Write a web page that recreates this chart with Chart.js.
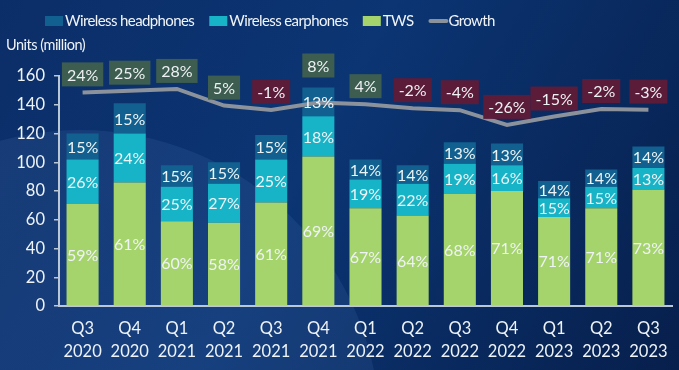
<!DOCTYPE html>
<html>
<head>
<meta charset="utf-8">
<script src="https://cdn.jsdelivr.net/npm/chart.js@4.4.0/dist/chart.umd.min.js"></script>
<style>
  html, body { margin: 0; padding: 0; background: #0a2b63; overflow: hidden; }
  #wrap { width: 679px; height: 370px; position: relative; }
</style>
</head>
<body>
<div id="wrap"><canvas id="chart" width="679" height="370"></canvas></div>
<script>
// ---- Data ----
const quarters = [
  ["Q3","2020"],["Q4","2020"],["Q1","2021"],["Q2","2021"],["Q3","2021"],["Q4","2021"],
  ["Q1","2022"],["Q2","2022"],["Q3","2022"],["Q4","2022"],["Q1","2023"],["Q2","2023"],["Q3","2023"]
];
const tws        = [71, 86, 59, 58, 72, 104, 68, 63, 78, 80, 62, 68, 81];
const earphones  = [31, 34, 24, 27, 30, 28, 20, 22, 21, 18, 13, 15, 15];
const headphones = [18, 21, 15, 15, 17, 20, 14, 13, 15, 15, 12, 12, 15];

const twsShare  = ["59%","61%","60%","58%","61%","69%","67%","64%","68%","71%","71%","71%","73%"];
const earShare  = ["26%","24%","25%","27%","25%","18%","19%","22%","19%","16%","15%","15%","13%"];
const headShare = ["15%","15%","15%","15%","15%","13%","14%","14%","13%","13%","14%","14%","14%"];

// growth line is drawn on the units axis in the original
const growthLine   = [148.6, 149.8, 151, 139.4, 136.4, 141.5, 140.4, 137.6, 136.2, 126, 131.8, 137, 136.6];
const growthLabels = ["24%","25%","28%","5%","-1%","8%","4%","-2%","-4%","-26%","-15%","-2%","-3%"];

const yTicks = [0, 20, 40, 60, 80, 100, 120, 140, 160];

const FONT = "Lato, 'Open Sans', sans-serif";
const C_HEAD = "#11608f";
const C_EAR  = "#17b3c7";
const C_TWS  = "#a6d46c";
const C_LINE = "#8b929b";

// ---- Plugins ----
const bgPlugin = {
  id: "bg",
  beforeDraw(chart) {
    const { ctx, width, height } = chart;
    ctx.save();
    const g = ctx.createLinearGradient(0, 0, width, height);
    g.addColorStop(0, "#0c2e68");
    g.addColorStop(0.45, "#0b3573");
    g.addColorStop(1, "#071f4c");
    ctx.fillStyle = g;
    ctx.fillRect(0, 0, width, height);
    // lighter arc on the left
    ctx.beginPath();
    ctx.arc(80, 430, 300, 0, Math.PI * 2);
    ctx.fillStyle = "rgba(110,150,215,0.12)";
    ctx.fill();
    ctx.restore();
  }
};

const labelPlugin = {
  id: "labels",
  afterDatasetsDraw(chart) {
    const { ctx } = chart;
    const shares = [twsShare, earShare, headShare];
    ctx.save();
    ctx.font = "16px " + FONT;
    ctx.textAlign = "center";
    ctx.textBaseline = "middle";
    ctx.fillStyle = "#eef3f6";
    shares.forEach((arr, di) => {
      const meta = chart.getDatasetMeta(di);
      meta.data.forEach((el, i) => {
        const cy = (el.y + el.base) / 2;
        ctx.fillText(arr[i], el.x, cy + 1);
      });
    });

    // growth boxes
    const lineMeta = chart.getDatasetMeta(3);
    const topMeta = chart.getDatasetMeta(2);
    lineMeta.data.forEach((pt, i) => {
      const txt = growthLabels[i];
      const barTop = topMeta.data[i].y;
      let cy = pt.y - 18;
      if (barTop < pt.y) cy = barTop - 22;
      const w = ctx.measureText(txt).width + 10;
      const h = 24;
      ctx.fillStyle = txt.startsWith("-") ? "#5b1c3a" : "#3d5d50";
      ctx.fillRect(pt.x - w / 2, cy - h / 2, w, h);
      ctx.fillStyle = "#eef1f3";
      ctx.fillText(txt, pt.x, cy + 1);
    });
    ctx.restore();
  }
};

const legendPlugin = {
  id: "customLegend",
  afterDraw(chart) {
    const { ctx } = chart;
    const items = [
      { ds: 2, kind: "box" },
      { ds: 1, kind: "box" },
      { ds: 0, kind: "box" },
      { ds: 3, kind: "line" }
    ];
    ctx.save();
    ctx.font = "15px " + FONT;
    ctx.letterSpacing = "-0.6px";
    ctx.textBaseline = "middle";
    let x = 45;
    const y = 21;
    items.forEach(it => {
      const d = chart.data.datasets[it.ds];
      if (it.kind === "box") {
        ctx.fillStyle = d.backgroundColor;
        ctx.fillRect(x, y - 5, 18, 10);
      } else {
        ctx.strokeStyle = d.borderColor;
        ctx.lineWidth = 4;
        ctx.lineCap = "round";
        ctx.beginPath();
        ctx.moveTo(x + 2, y);
        ctx.lineTo(x + 18, y);
        ctx.stroke();
      }
      ctx.fillStyle = "#f0f4f8";
      ctx.textAlign = "left";
      ctx.fillText(d.label, x + 20, y);
      x += 20 + ctx.measureText(d.label).width + 15;
    });
    // axis caption
    ctx.font = "14.5px " + FONT;
    ctx.letterSpacing = "-0.5px";
    ctx.fillText("Units (million)", 6, 45);
    ctx.restore();
  }
};

// ---- Chart ----
const ctx = document.getElementById("chart").getContext("2d");
new Chart(ctx, {
  data: {
    labels: quarters,
    datasets: [
      { type: "bar", label: "TWS", data: tws, backgroundColor: C_TWS,
        barPercentage: 0.68, categoryPercentage: 1 },
      { type: "bar", label: "Wireless earphones", data: earphones, backgroundColor: C_EAR,
        barPercentage: 0.68, categoryPercentage: 1 },
      { type: "bar", label: "Wireless headphones", data: headphones, backgroundColor: C_HEAD,
        barPercentage: 0.68, categoryPercentage: 1 },
      { type: "line", label: "Growth", data: growthLine, stack: "growth",
        borderColor: C_LINE, borderWidth: 4, pointRadius: 0, tension: 0, order: -1 }
    ]
  },
  options: {
    responsive: false,
    animation: false,
    devicePixelRatio: 1,
    layout: { padding: { left: 0, right: 7, top: 76, bottom: 0 } },
    plugins: {
      legend: { display: false },
      tooltip: { enabled: false }
    },
    scales: {
      x: {
        stacked: true,
        afterFit: s => { s.height = 64; },
        grid: { display: false, drawTicks: false },
        border: { color: "#b9c7d6", width: 2 },
        ticks: { color: "#eef3f7", font: { family: FONT, size: 16.5, lineHeight: 1.4 }, padding: 11, maxRotation: 0 }
      },
      y: {
        stacked: true,
        min: 0,
        max: 160,
        afterFit: s => { s.width = 59; },
        afterBuildTicks: s => { s.ticks = yTicks.map(v => ({ value: v })); },
        grid: { drawOnChartArea: false, drawTicks: true, tickLength: 5, color: "#b9c7d6", lineWidth: 1.5 },
        border: { color: "#b9c7d6", width: 2 },
        ticks: { color: "#eef3f7", font: { family: FONT, size: 16.5 }, padding: 9 }
      }
    }
  },
  plugins: [bgPlugin, labelPlugin, legendPlugin]
});
</script>
</body>
</html>
